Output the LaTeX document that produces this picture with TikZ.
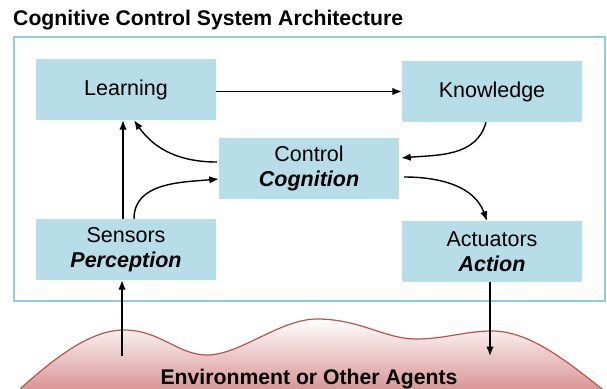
\documentclass[tikz,border=0pt]{standalone}
\usepackage{fontspec}
\setmainfont{Liberation Sans}
\usetikzlibrary{arrows.meta}
\definecolor{boxblue}{RGB}{183,221,232}
\definecolor{framec}{RGB}{146,205,222}
\definecolor{envline}{RGB}{192,80,77}
\definecolor{envfill}{RGB}{214,140,140}
\begin{document}
\begin{tikzpicture}[x=1pt,y=1pt,
  blk/.style={fill=boxblue, draw=none, minimum width=180pt, minimum height=61pt,
    inner sep=0pt, align=center, font=\fontsize{21.5}{25}\selectfont},
  arr/.style={line width=1.4pt, -{Latex[length=9.5pt,width=7.5pt]}},
  bigbold/.style={font=\bfseries\fontsize{21.2}{25}\selectfont, inner sep=0pt}
]
\useasboundingbox (0,0) rectangle (607,-388);
% environment
\begin{scope}
\clip (0,0) rectangle (607,-388);
\path[shade, top color=white, bottom color=envfill, draw=envline, line width=1.2pt]
  (21,-388) .. controls (55,-358) and (90,-330) .. (124,-330)
  .. controls (160,-330) and (178,-355) .. (207,-355)
  .. controls (240,-355) and (280,-319) .. (317,-319)
  .. controls (360,-319) and (385,-339) .. (416,-339)
  .. controls (445,-339) and (465,-331) .. (492,-331)
  .. controls (530,-331) and (568,-362) .. (607,-393)
  -- (607,-396) -- (21,-396) -- cycle;
\end{scope}
\node[bigbold, anchor=base] (env) at (309,-384) {Environment or Other Agents};
% title and frame
\node[bigbold, anchor=base west] (title) at (13,-25) {Cognitive Control System Architecture};
\node[draw=framec, line width=1.5pt, minimum width=591pt, minimum height=264pt, inner sep=0pt] (frame) at (309.5,-169) {};
% blocks
\node[blk] (learn) at (126,-89.5) {Learning};
\node[blk] (know) at (492,-91.5) {Knowledge};
\node[blk] (ctrl) at (309,-168.5) {Control\\\textbf{\textit{Cognition}}};
\node[blk] (sens) at (126,-249.5) {Sensors\\\textbf{\textit{Perception}}};
\node[blk] (act) at (492,-251.5) {Actuators\\\textbf{\textit{Action}}};
\coordinate (envL) at (122,-356);
\coordinate (envR) at (490,-356);
% connectors
\draw[arr] (learn.east |- know.west) -- (know.west);
\draw[arr] ([xshift=-3pt]sens.north) -- ([xshift=-3pt]learn.south);
\draw[arr] ([xshift=8pt]sens.north) to[out=90,in=185] ([yshift=-10.5pt]ctrl.west);
\draw[arr] ([yshift=6.5pt,xshift=-2pt]ctrl.west) to[out=180,in=-55] ([xshift=8pt]learn.south);
\draw[arr] ([xshift=-6pt]know.south) to[out=-105,in=5] ([yshift=10.5pt,xshift=2pt]ctrl.east);
\draw[arr] ([yshift=-8.5pt,xshift=5pt]ctrl.east) to[out=0,in=110] ([xshift=-5pt]act.north);
\draw[arr] (envL) -- (sens.south -| envL);
\draw[arr] (act.south -| envR) -- (envR);
\end{tikzpicture}
\end{document}
